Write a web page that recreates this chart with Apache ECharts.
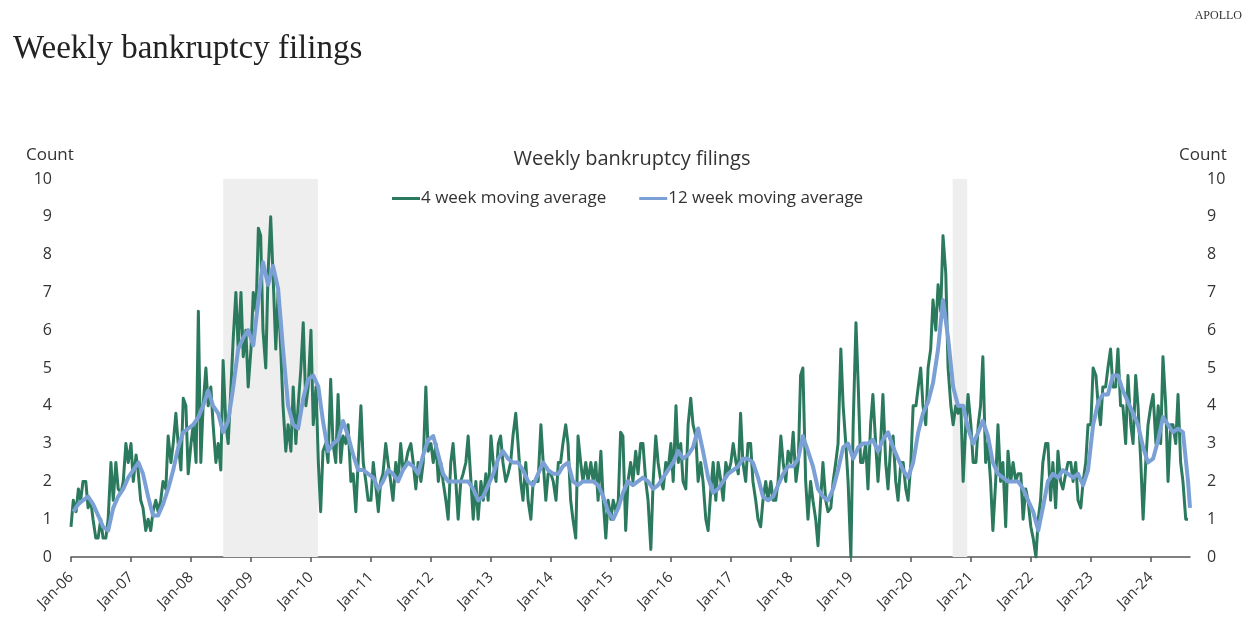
<!DOCTYPE html>
<html><head><meta charset="utf-8">
<script src="https://cdn.jsdelivr.net/npm/echarts@6/dist/echarts.min.js"></script>
<style>html,body{margin:0;padding:0;background:#fff}#c{width:1250px;height:632px}</style>
</head><body><div id="c"></div>
<script>
// x-axis tick labels (one per January)
const tickLabels = ['Jan-06','Jan-07','Jan-08','Jan-09','Jan-10','Jan-11','Jan-12','Jan-13','Jan-14','Jan-15','Jan-16','Jan-17','Jan-18','Jan-19','Jan-20','Jan-21','Jan-22','Jan-23','Jan-24'];

// 4 week moving average, two readings per month (1st and 15th)
const g2006 = [0.8,1.5, 1.2,1.8, 1.5,2.0, 2.0,1.3, 1.5,1.0, 0.5,0.5, 1.0,0.5, 0.5,1.0, 2.5,1.5, 2.5,1.8, 1.7,2.0, 3.0,2.5];
const g2007 = [3.0,2.0, 2.7,2.2, 1.5,1.3, 0.7,1.0, 0.7,1.2, 1.5,1.2, 1.5,2.0, 1.8,3.2, 2.5,3.0, 3.8,3.0, 2.3,4.2, 4.0,2.2];
const g2008 = [3.0,3.5, 2.5,6.5, 2.5,4.0, 5.0,4.0, 4.5,3.5, 2.5,3.0, 2.3,5.2, 3.5,3.0, 4.5,5.8, 7.0,5.5, 7.0,5.3, 6.0,4.5];
const g2009 = [5.5,7.0, 6.5,8.7, 8.5,6.0, 5.0,7.5, 9.0,7.5, 5.5,7.0, 5.5,4.0, 2.8,3.5, 2.8,4.5, 3.0,4.0, 5.0,6.2, 4.0,4.5];
const g2010 = [6.0,3.5, 4.5,2.5, 1.2,2.8, 3.0,2.5, 4.7,3.0, 2.5,4.3, 2.5,3.2, 3.0,3.5, 2.0,2.2, 1.2,2.5, 4.0,2.5, 2.0,1.5];
const g2011 = [1.5,2.5, 1.8,1.2, 2.0,2.2, 3.0,2.5, 2.0,1.5, 2.5,2.0, 3.0,2.3, 2.5,2.8, 3.0,2.5, 1.8,2.5, 2.0,2.5, 4.5,2.8];
const g2012 = [3.0,2.5, 3.0,2.0, 2.5,2.0, 1.5,1.0, 2.5,3.0, 2.0,1.0, 2.0,2.2, 2.5,3.2, 2.0,1.0, 2.0,1.0, 2.0,1.5, 2.2,1.5];
const g2013 = [3.2,2.5, 2.0,3.0, 3.2,2.5, 2.0,2.2, 2.5,3.2, 3.8,3.0, 2.0,1.5, 2.5,1.5, 1.0,2.0, 2.0,2.0, 3.5,2.5, 1.5,2.2];
const g2014 = [2.2,2.0, 1.5,2.5, 2.5,3.0, 3.5,3.0, 1.5,1.0, 0.5,3.2, 2.5,2.0, 2.5,2.0, 2.5,2.0, 2.5,1.5, 2.8,1.5, 0.5,1.5];
const g2015 = [1.0,1.5, 1.2,1.5, 3.3,3.2, 0.7,2.0, 2.5,2.0, 2.8,2.2, 3.0,3.0, 2.0,1.5, 0.2,2.0, 3.2,2.5, 2.0,1.8, 2.5,2.3];
const g2016 = [3.0,2.0, 4.0,2.5, 3.0,2.0, 1.8,3.5, 4.2,3.5, 3.2,2.0, 2.5,2.0, 1.0,0.7, 1.8,2.5, 1.5,2.5, 2.0,1.5, 2.5,2.2];
const g2017 = [2.5,3.0, 2.5,2.2, 3.8,2.5, 2.0,3.0, 3.0,2.0, 1.5,1.0, 0.8,1.5, 2.0,1.5, 2.0,1.5, 1.5,2.0, 3.2,2.5, 2.0,2.8];
const g2018 = [2.5,3.3, 2.0,2.5, 4.8,5.0, 2.0,1.0, 2.0,1.5, 1.0,0.3, 1.5,2.5, 1.5,1.2, 1.3,2.0, 2.5,3.0, 5.5,4.0, 3.0,2.0];
const g2019 = [0.0,3.5, 6.2,4.5, 2.5,2.5, 3.0,1.8, 3.5,4.3, 3.0,2.0, 3.0,4.3, 2.5,1.8, 3.0,3.2, 2.0,1.5, 2.5,2.5, 1.8,1.5];
const g2020 = [2.5,4.0, 4.0,4.5, 5.0,4.0, 3.5,5.0, 5.5,6.8, 6.0,7.2, 6.5,8.5, 7.5,5.0, 4.0,3.5, 4.0,3.8, 4.0,2.0, 3.5,4.3];
const g2021 = [3.5,2.5, 2.5,3.5, 4.0,5.3, 2.5,3.0, 2.0,0.7, 2.0,3.5, 2.0,2.5, 0.8,2.8, 2.0,2.5, 2.0,2.2, 2.2,1.0, 1.8,1.5];
const g2022 = [0.8,0.5, 0.0,1.0, 1.5,2.5, 3.0,3.0, 1.5,2.5, 1.3,2.8, 2.0,1.8, 2.2,2.5, 2.5,2.0, 2.5,1.5, 1.3,2.0, 2.5,3.5];
const g2023 = [3.5,5.0, 4.8,4.0, 3.5,4.5, 4.5,5.0, 5.5,4.5, 4.5,5.5, 4.0,4.0, 3.0,4.8, 3.5,3.0, 4.8,4.0, 2.5,1.0, 2.5,3.5];
const g2024 = [4.0,4.3, 3.0,4.0, 3.0,5.3, 4.0,2.0, 3.5,3.5, 3.0,4.3, 2.5,2.0, 1.0,1.0];

// 12 week moving average, one reading per month (15th)
const b2006 = [1.2,1.4,1.5,1.6,1.4,1.1,0.8,0.7,1.3,1.6,1.8,2.1];
const b2007 = [2.3,2.5,2.2,1.6,1.1,1.1,1.4,1.8,2.3,2.9,3.3,3.4];
const b2008 = [3.5,3.7,4.0,4.4,4.0,3.8,3.3,3.6,4.5,5.5,5.8,6.0];
const b2009 = [5.6,6.8,7.8,7.2,7.7,7.1,5.5,4.0,3.5,3.4,4.2,4.7];
const b2010 = [4.8,4.5,3.6,2.8,3.0,3.1,3.6,3.2,2.7,2.3,2.3,2.2];
const b2011 = [2.1,1.8,2.0,2.3,2.2,2.0,2.3,2.5,2.4,2.2,2.7,3.1];
const b2012 = [3.2,2.7,2.2,2.0,2.0,2.0,2.0,2.0,1.8,1.5,1.6,1.9];
const b2013 = [2.2,2.6,2.8,2.6,2.5,2.5,2.3,2.0,1.9,2.2,2.5,2.3];
const b2014 = [2.2,2.2,2.4,2.5,2.0,1.9,2.0,2.0,2.0,1.9,1.6,1.2];
const b2015 = [1.0,1.3,1.7,2.0,1.9,2.0,2.1,2.0,1.8,1.9,2.1,2.3];
const b2016 = [2.5,2.8,2.6,2.7,2.9,3.4,2.8,2.1,1.7,1.8,2.0,2.2];
const b2017 = [2.3,2.4,2.6,2.6,2.5,2.1,1.6,1.5,1.6,1.9,2.2,2.4];
const b2018 = [2.4,2.6,3.2,2.8,2.4,1.8,1.6,1.5,1.8,2.3,2.9,3.0];
const b2019 = [2.6,2.9,3.0,3.0,3.1,2.8,3.1,3.3,2.9,2.6,2.3,2.1];
const b2020 = [2.5,3.3,3.8,4.1,4.6,5.5,6.8,5.8,4.5,4.0,4.0,3.4];
const b2021 = [3.0,3.3,3.6,3.2,2.5,2.2,2.1,2.0,2.0,2.0,1.8,1.5];
const b2022 = [1.2,0.7,1.3,2.0,2.2,2.1,2.3,2.2,2.1,2.2,1.9,2.3];
const b2023 = [3.5,4.1,4.3,4.3,4.8,4.8,4.4,4.1,3.8,3.5,2.9,2.5];
const b2024 = [2.6,3.1,3.7,3.5,3.3,3.4,3.3,2.0];
const blueEnd = ['2024-08-27', 1.3];

const lastDate = '2024-08-27';
const recessions = [['2008-07-16','2010-02-12'], ['2020-09-12','2020-12-10']];

const greenYears = [g2006,g2007,g2008,g2009,g2010,g2011,g2012,g2013,g2014,g2015,g2016,g2017,g2018,g2019,g2020,g2021,g2022,g2023,g2024];
const blueYears = [b2006,b2007,b2008,b2009,b2010,b2011,b2012,b2013,b2014,b2015,b2016,b2017,b2018,b2019,b2020,b2021,b2022,b2023,b2024];

function toX(y, m, d) {
  const s = Date.UTC(y, 0, 1), e = Date.UTC(y + 1, 0, 1);
  return (y - 2006) + (Date.UTC(y, m, d) - s) / (e - s);
}
function strX(str) { const p = str.split('-').map(Number); return toX(p[0], p[1] - 1, p[2]); }

const green = [];
greenYears.forEach((arr, i) => arr.forEach((v, k) => green.push([toX(2006 + i, Math.floor(k / 2), k % 2 ? 15 : 1), v])));
const blue = [];
blueYears.forEach((arr, i) => arr.forEach((v, m) => blue.push([toX(2006 + i, m, 15), v])));
blue.push([strX(blueEnd[0]), blueEnd[1]]);

const tickVals = tickLabels.map((_, i) => i);
const sans = 'Open Sans';
const chart = echarts.init(document.getElementById('c'));
chart.setOption({
  animation: false,
  backgroundColor: '#fff',
  title: [
    { text: 'Weekly bankruptcy filings', left: 8, top: 28,
      textStyle: { fontFamily: 'Liberation Serif', fontSize: 33, fontWeight: 'normal', color: '#222' } },
    { text: 'Weekly bankruptcy filings', left: 627, top: 144, textAlign: 'center',
      textStyle: { fontFamily: sans, fontSize: 20, fontWeight: 'normal', color: '#333' } }
  ],
  graphic: [
    { type: 'text', right: 8, top: 10, style: { text: 'APOLLO', font: '12px "Liberation Serif"', fill: '#333' } },
    { type: 'text', left: 26, top: 147, style: { text: 'Count', font: '17px "Open Sans"', fill: '#333' } },
    { type: 'text', left: 1179, top: 147, style: { text: 'Count', font: '17px "Open Sans"', fill: '#333' } }
  ],
  legend: {
    left: 392, top: 190, padding: 0, itemWidth: 28, itemHeight: 3, itemGap: 33, icon: 'rect',
    textStyle: { fontFamily: sans, fontSize: 17, color: '#333', padding: [0, 0, 0, -4] },
    data: ['4 week moving average', '12 week moving average']
  },
  grid: { left: 71, right: 60, top: 179, bottom: 75 },
  xAxis: {
    type: 'value', min: 0, max: strX(lastDate),
    axisLine: { lineStyle: { color: '#555', width: 1.5 } },
    axisTick: { show: true, length: 5, customValues: tickVals, lineStyle: { color: '#555', width: 1.5 } },
    axisLabel: { customValues: tickVals, rotate: 45, margin: 18, fontFamily: sans, fontSize: 15, color: '#333',
      formatter: v => tickLabels[Math.round(v)] || '' },
    splitLine: { show: false }
  },
  yAxis: [
    { type: 'value', min: 0, max: 10, interval: 1, position: 'left',
      axisLine: { show: false }, axisTick: { show: false }, splitLine: { show: false },
      axisLabel: { margin: 19, fontFamily: sans, fontSize: 16, color: '#333' } },
    { type: 'value', min: 0, max: 10, interval: 1, position: 'right',
      axisLine: { show: false }, axisTick: { show: false }, splitLine: { show: false },
      axisLabel: { margin: 17, fontFamily: sans, fontSize: 16, color: '#333' } }
  ],
  series: [
    { name: '4 week moving average', type: 'line', data: green, showSymbol: false, z: 2,
      color: '#2b7a5d', lineStyle: { width: 3, color: '#2b7a5d', join: 'round' },
      markArea: { silent: true, itemStyle: { color: '#eeeeee' },
        data: recessions.map(r => [{ xAxis: strX(r[0]) }, { xAxis: strX(r[1]) }]) } },
    { name: '12 week moving average', type: 'line', data: blue, showSymbol: false, z: 3,
      color: '#7ba0d5', lineStyle: { width: 4, color: '#7ba0d5', join: 'round' } }
  ]
});
</script></body></html>
